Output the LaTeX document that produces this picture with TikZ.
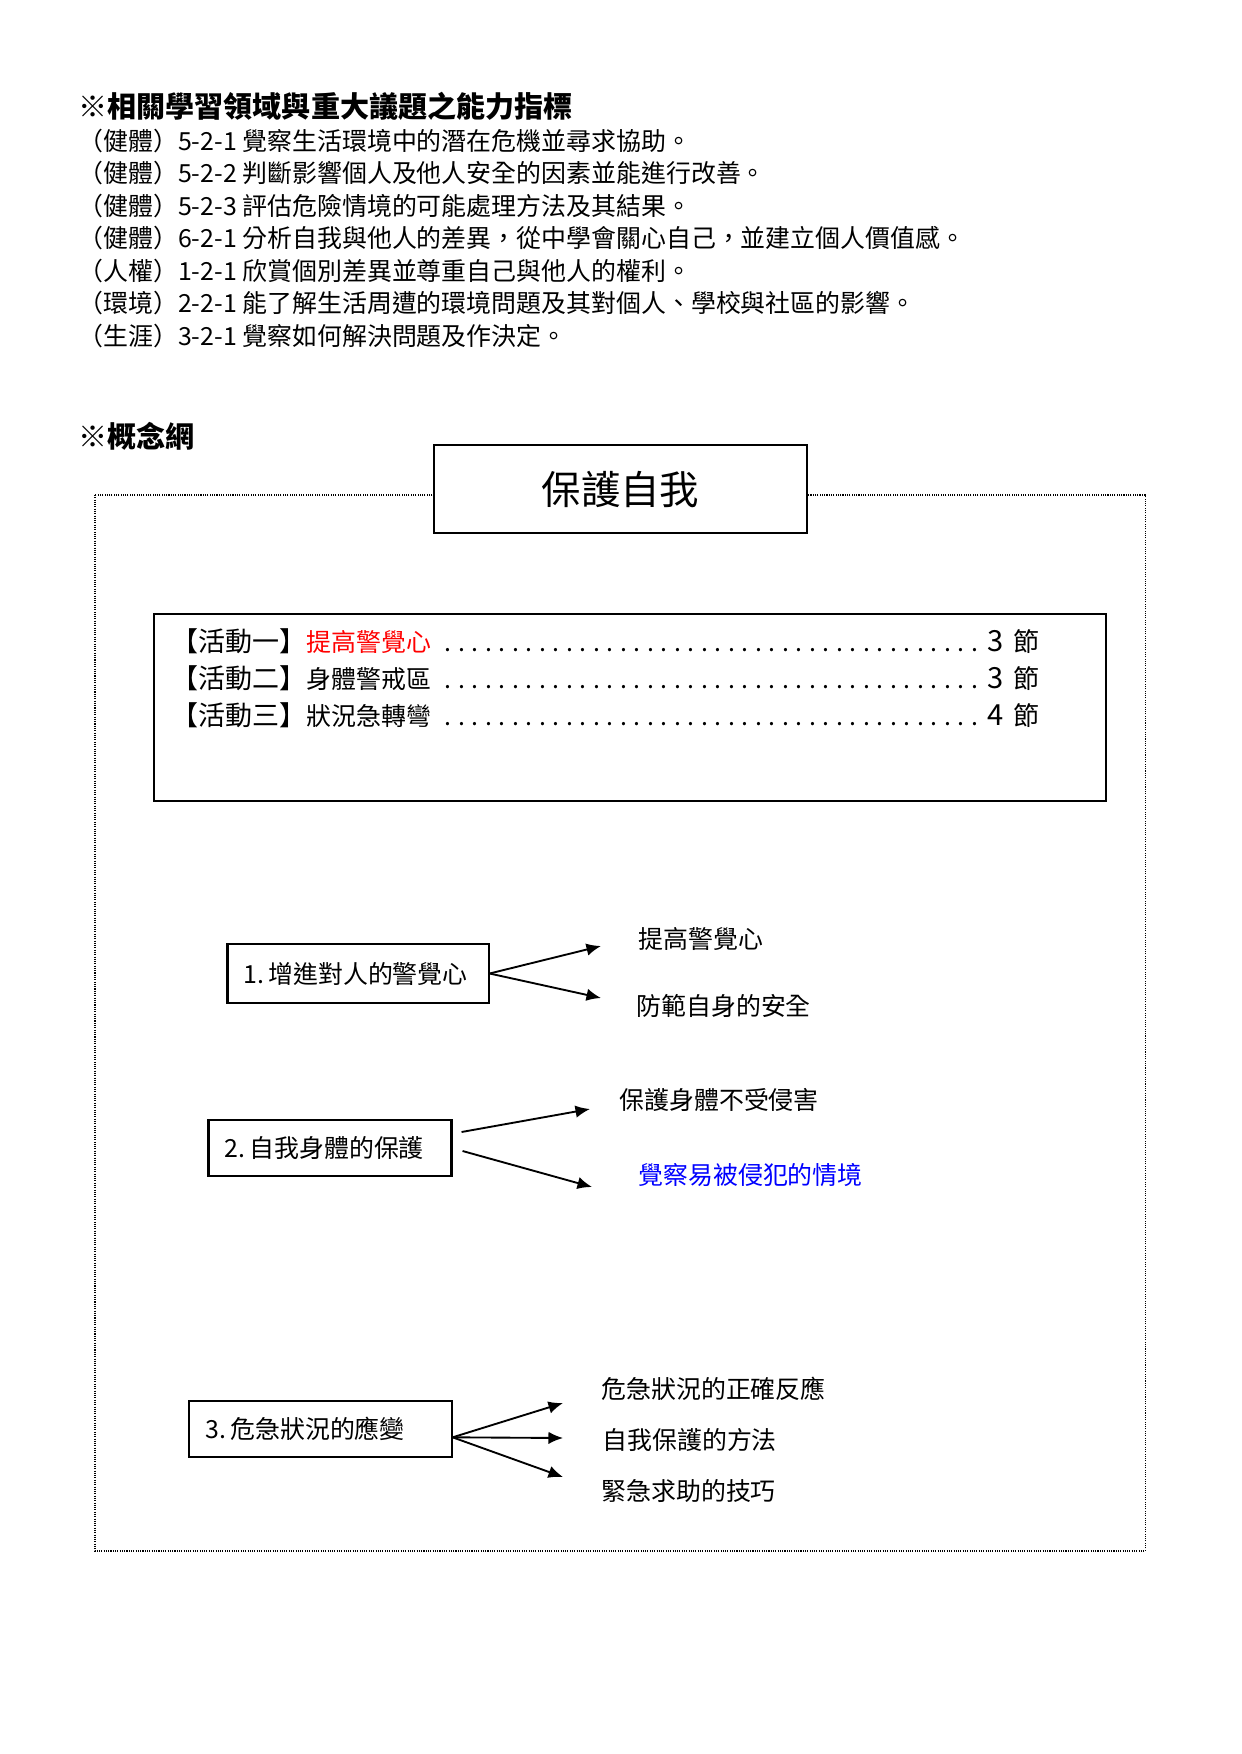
\documentclass[tikz,border=0pt]{standalone}
\usepackage{fontspec}
\setmainfont{Noto Sans CJK TC}
\usetikzlibrary{arrows.meta,calc,positioning}
\definecolor{hot}{RGB}{255,0,0}
\definecolor{cool}{RGB}{0,0,255}
\newcommand{\fs}[1]{\fontsize{#1}{#1}\selectfont}
\newcommand{\actline}[3]{\hbox to 418pt{{\fs{13pt}【活動#1】}{\fs{12pt}#2}\leaders\hbox to 6.5pt{\hss.\hss}\hfill{\fs{14pt}#3}\hspace{5pt}{\fs{12.5pt}節}}}

\begin{document}
\begin{tikzpicture}[x=0.016922cm,y=-0.016922cm,
  box/.style={draw,line width=1pt,fill=white,inner sep=0pt},
  conbox/.style={draw,line width=1pt,inner xsep=7.7pt,inner ysep=0pt,align=left,font=\fs{12pt}},
  lbl/.style={anchor=west,inner sep=0pt,font=\fs{12pt}},
  arr/.style={line width=0.9pt,-{Latex[length=7pt,width=6pt]}},
  frame/.style={line width=0.5pt,dash pattern=on 0.5pt off 0.6pt}]
  \useasboundingbox (0,0) rectangle (1241,1754);
  % indicators
  \node[lbl,font=\fs{14pt}\bfseries] (head) at (78,106) {※相關學習領域與重大議題之能力指標};
  \foreach \t [count=\i from 0] in {（健體）5-2-1 覺察生活環境中的潛在危機並尋求協助。, （健體）5-2-2 判斷影響個人及他人安全的因素並能進行改善。, （健體）5-2-3 評估危險情境的可能處理方法及其結果。, （健體）6-2-1 分析自我與他人的差異，從中學會關心自己，並建立個人價值感。, （人權）1-2-1 欣賞個別差異並尊重自己與他人的權利。, （環境）2-2-1 能了解生活周遭的環境問題及其對個人、學校與社區的影響。, （生涯）3-2-1 覺察如何解決問題及作決定。} {
    \node[lbl] (ind\i) at (78,141+32.5*\i) {\t};
  }
  % concept map
  \node[lbl,font=\fs{14pt}\bfseries] (maphead) at (78,436) {※概念網};
  \draw[frame] (95,495) rectangle (1145,1551);
  \node[box,minimum width=180pt,minimum height=42.2pt,font=\fs{19pt}] (top) at (620.5,489) {保護自我};
  \node[box,minimum width=458.6pt,minimum height=89.7pt] (acts) at (630,707.5) {};
  \foreach \n/\nm/\c/\y [count=\k] in {一/{\textcolor{hot}{提高警覺心}}/3/641, 二/身體警戒區/3/678, 三/狀況急轉彎/4/715}
    \node[lbl] (act\k) at (171,\y) {\actline{\n}{\nm}{\c}};
  % branch 1
  \node[conbox,text width=110.3pt,minimum height=28.3pt] (b1) at (358,973.5) {\mbox{1.\,增進對人的警覺心}};
  \coordinate (e11) at (601,946);
  \coordinate (e12) at (601,998);
  \draw[arr] (b1.east) -- (e11);
  \draw[arr] (b1.east) -- (e12);
  \node[lbl] (l11) at (638,939) {提高警覺心};
  \node[lbl] (l12) at (636,1006) {防範自身的安全};
  % branch 2
  \node[conbox,text width=101.6pt,minimum height=26.9pt] (b2) at (330,1148) {\mbox{2.\,自我身體的保護}};
  \coordinate (e21) at (590,1109);
  \coordinate (e22) at (592,1187);
  \draw[arr] ([shift={(9,-16)}]b2.east) -- (e21);
  \draw[arr] ([shift={(10,3)}]b2.east) -- (e22);
  \node[lbl] (l21) at (619,1100) {保護身體不受侵害};
  \node[lbl,text=cool] (l22) at (638,1175) {覺察易被侵犯的情境};
  % branch 3
  \node[conbox,text width=110.8pt,minimum height=26.9pt] (b3) at (320.5,1429) {\mbox{3.\,危急狀況的應變}};
  \coordinate (e31) at (563,1403);
  \coordinate (e32) at (563,1438);
  \coordinate (e33) at (563,1477);
  \foreach \e in {e31,e32,e33}
    \draw[arr] ([yshift=-4pt]b3.east) -- (\e);
  \node[lbl] (l31) at (601,1389) {危急狀況的正確反應};
  \node[lbl] (l32) at (602,1440) {自我保護的方法};
  \node[lbl] (l33) at (601,1491) {緊急求助的技巧};
\end{tikzpicture}
\end{document}
